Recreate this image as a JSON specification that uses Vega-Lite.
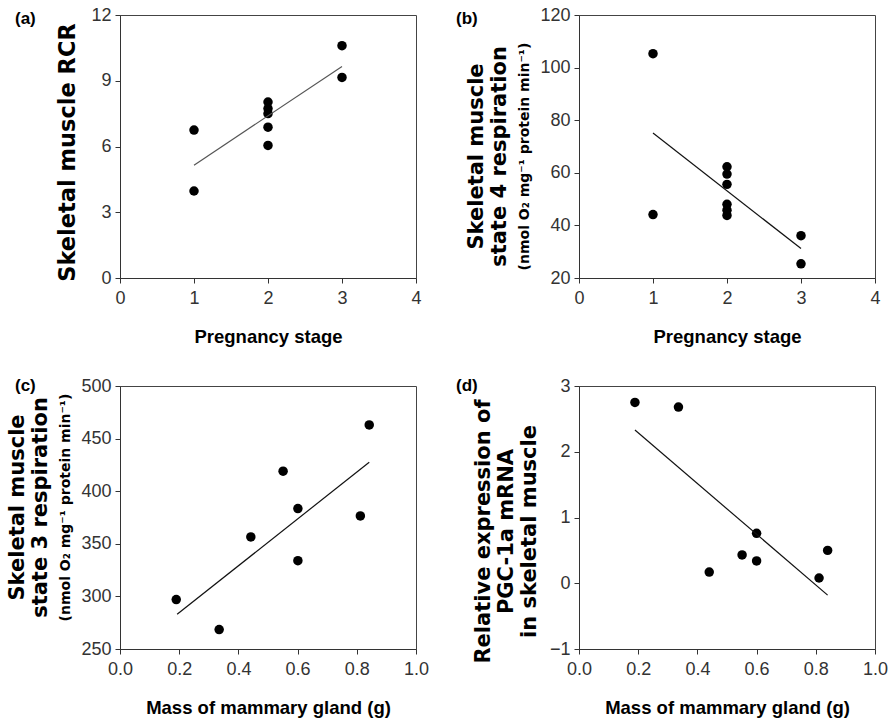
{
  "$schema": "https://vega.github.io/schema/vega-lite/v6.json",
  "background": "white",
  "padding": {"left": 5, "top": 5, "right": 2, "bottom": 2},
  "datasets": {
    "a_pts": [{"x":1,"y":6.75},{"x":1,"y":3.97},{"x":2,"y":8.03},{"x":2,"y":7.73},{"x":2,"y":7.5},{"x":2,"y":6.88},{"x":2,"y":6.05},{"x":3,"y":10.6},{"x":3,"y":9.15}],
    "a_line": [{"x":1,"y":5.15},{"x":3,"y":9.65}],
    "b_pts": [{"x":1,"y":105.3},{"x":1,"y":44.1},{"x":2,"y":62.3},{"x":2,"y":59.5},{"x":2,"y":55.6},{"x":2,"y":48.0},{"x":2,"y":45.8},{"x":2,"y":43.8},{"x":3,"y":36.1},{"x":3,"y":25.4}],
    "b_line": [{"x":1,"y":75.1},{"x":3,"y":31.2}],
    "c_pts": [{"x":0.19,"y":297},{"x":0.335,"y":268.5},{"x":0.442,"y":356.5},{"x":0.551,"y":419},{"x":0.601,"y":383.5},{"x":0.601,"y":334},{"x":0.812,"y":376.5},{"x":0.842,"y":463}],
    "c_line": [{"x":0.193,"y":283},{"x":0.842,"y":427.5}],
    "d_pts": [{"x":0.189,"y":2.75},{"x":0.336,"y":2.68},{"x":0.44,"y":0.17},{"x":0.551,"y":0.43},{"x":0.6,"y":0.76},{"x":0.6,"y":0.34},{"x":0.811,"y":0.08},{"x":0.84,"y":0.5}],
    "d_line": [{"x":0.189,"y":2.33},{"x":0.84,"y":-0.18}]
  },
  "columns": 2,
  "spacing": {"column": 25, "row": 30},
  "concat": [
    {
      "width": 296, "height": 263,
      "title": {"text": "(a)", "dx": -105, "dy": 26},
      "layer": [
        {
          "data": {"name": "a_pts"},
          "mark": {"type": "circle", "size": 90, "color": "#000", "opacity": 1},
          "encoding": {
            "x": {"field": "x", "type": "quantitative", "scale": {"domain": [0, 4]}, "axis": {"values": [0,1,2,3,4], "format": "d", "title": "Pregnancy stage"}},
            "y": {"field": "y", "type": "quantitative", "scale": {"domain": [0, 12]}, "axis": {"values": [0,3,6,9,12], "format": "d", "title": "Skeletal muscle RCR", "titleFontSize": 22.5, "titleY": 137}}
          }
        },
        {
          "data": {"name": "a_line"},
          "mark": {"type": "line", "color": "#555", "strokeWidth": 1.2},
          "encoding": {
            "x": {"field": "x", "type": "quantitative"},
            "y": {"field": "y", "type": "quantitative"}
          }
        }
      ]
    },
    {
      "width": 296, "height": 263,
      "title": {"text": "(b)", "dx": -123, "dy": 26},
      "layer": [
        {
          "data": {"name": "b_pts"},
          "mark": {"type": "circle", "size": 90, "color": "#000", "opacity": 1},
          "encoding": {
            "x": {"field": "x", "type": "quantitative", "scale": {"domain": [0, 4]}, "axis": {"values": [0,1,2,3,4], "format": "d", "title": "Pregnancy stage"}},
            "y": {"field": "y", "type": "quantitative", "scale": {"domain": [20, 120]}, "axis": {"values": [20,40,60,80,100,120], "format": "d", "title": "(nmol O₂ mg⁻¹ protein min⁻¹)", "titleFontSize": 14, "titlePadding": 8, "titleY": 141}}
          }
        },
        {
          "data": {"name": "b_line"},
          "mark": {"type": "line", "color": "#111", "strokeWidth": 1.2},
          "encoding": {
            "x": {"field": "x", "type": "quantitative"},
            "y": {"field": "y", "type": "quantitative", "scale": {"domain": [20, 120]}, "axis": {"orient": "left", "labels": false, "ticks": false, "domain": false, "title": ["Skeletal muscle", "state 4 respiration"], "titlePadding": 70, "titleY": 141}}
          }
        }
      ],
      "resolve": {"scale": {"y": "independent"}, "axis": {"y": "independent"}}
    },
    {
      "width": 296, "height": 263,
      "title": {"text": "(c)", "dx": -105, "dy": 22},
      "layer": [
        {
          "data": {"name": "c_pts"},
          "mark": {"type": "circle", "size": 90, "color": "#000", "opacity": 1},
          "encoding": {
            "x": {"field": "x", "type": "quantitative", "scale": {"domain": [0, 1]}, "axis": {"values": [0,0.2,0.4,0.6,0.8,1.0], "format": ".1f", "title": "Mass of mammary gland (g)"}},
            "y": {"field": "y", "type": "quantitative", "scale": {"domain": [250, 500]}, "axis": {"values": [250,300,350,400,450,500], "format": "d", "title": "(nmol O₂ mg⁻¹ protein min⁻¹)", "titleFontSize": 14, "titlePadding": 8, "titleY": 121}}
          }
        },
        {
          "data": {"name": "c_line"},
          "mark": {"type": "line", "color": "#111", "strokeWidth": 1.2},
          "encoding": {
            "x": {"field": "x", "type": "quantitative"},
            "y": {"field": "y", "type": "quantitative", "scale": {"domain": [250, 500]}, "axis": {"orient": "left", "labels": false, "ticks": false, "domain": false, "title": ["Skeletal muscle", "state 3 respiration"], "titlePadding": 70, "titleY": 121}}
          }
        }
      ],
      "resolve": {"scale": {"y": "independent"}, "axis": {"y": "independent"}}
    },
    {
      "width": 296, "height": 263,
      "title": {"text": "(d)", "dx": -123, "dy": 22},
      "layer": [
        {
          "data": {"name": "d_pts"},
          "mark": {"type": "circle", "size": 90, "color": "#000", "opacity": 1},
          "encoding": {
            "x": {"field": "x", "type": "quantitative", "scale": {"domain": [0, 1]}, "axis": {"values": [0,0.2,0.4,0.6,0.8,1.0], "format": ".1f", "title": "Mass of mammary gland (g)"}},
            "y": {"field": "y", "type": "quantitative", "scale": {"domain": [-1, 3]}, "axis": {"values": [-1,0,1,2,3], "format": "d", "title": ["Relative expression of", "PGC-1a mRNA", "in skeletal muscle"], "titlePadding": 10, "titleY": 145}}
          }
        },
        {
          "data": {"name": "d_line"},
          "mark": {"type": "line", "color": "#111", "strokeWidth": 1.2},
          "encoding": {
            "x": {"field": "x", "type": "quantitative"},
            "y": {"field": "y", "type": "quantitative"}
          }
        }
      ]
    }
  ],
  "config": {
    "view": {"stroke": "#444", "strokeWidth": 1},
    "axis": {
      "grid": false,
      "labelFont": "Liberation Sans",
      "labelFontSize": 18,
      "labelColor": "#333",
      "labelFlush": false,
      "labelOverlap": false,
      "domainColor": "#333",
      "tickColor": "#333",
      "tickSize": 5,
      "labelPadding": 4,
      "titleColor": "#000"
    },
    "axisX": {
      "titleFont": "Liberation Sans",
      "titleFontSize": 18.5,
      "titleFontWeight": "bold",
      "titlePadding": 20,
      "labelPadding": 6
    },
    "axisY": {
      "titleFont": "DejaVu Sans",
      "titleFontSize": 21,
      "titleFontWeight": "bold",
      "titleLineHeight": 23,
      "titlePadding": 11
    },
    "title": {
      "font": "Liberation Sans",
      "fontSize": 17,
      "fontWeight": "bold",
      "anchor": "start",
      "frame": "group",
      "color": "#000",
      "offset": 0
    }
  }
}
